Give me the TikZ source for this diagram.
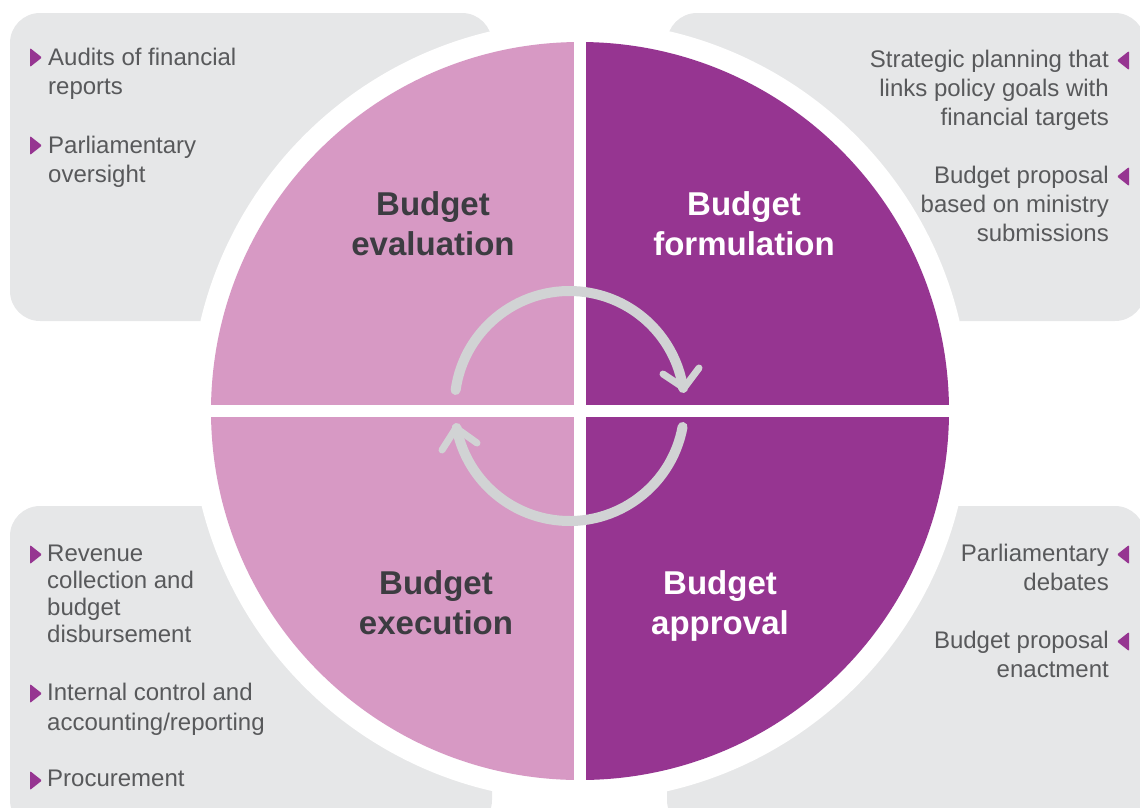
\documentclass[tikz,border=0pt]{standalone}
\usepackage{fontspec}
\setmainfont{Liberation Sans}
\definecolor{boxgray}{HTML}{E6E7E8}
\definecolor{lightp}{HTML}{D799C4}
\definecolor{darkp}{HTML}{963591}
\definecolor{arrowgray}{HTML}{D1D3D4}
\definecolor{bodygray}{HTML}{58595B}
\definecolor{titlegray}{HTML}{3C3C41}
\tikzset{
  infobox/.style={fill=boxgray, rounded corners=30pt},
  body/.style={font=\fontsize{24}{29}\selectfont, text=bodygray, inner sep=0pt},
  bodyL/.style={body, align=left, anchor=north west},
  bodyR/.style={body, align=right, anchor=north east},
  title/.style={font=\fontsize{33}{40}\selectfont\bfseries, align=center, anchor=north, inner sep=0pt},
  bulletR/.style={fill=darkp, rounded corners=1pt},
  cyclearc/.style={draw=arrowgray, line width=10pt, line cap=round},
  cyclehead/.style={draw=arrowgray, line width=7pt, line cap=round, line join=round}
}
\begin{document}
\begin{tikzpicture}[x=1pt,y=-1pt]
\useasboundingbox (0,0) rectangle (1140,807);
\clip (0,0) rectangle (1140,807);
% grey panels
\fill[infobox] (10,13) rectangle (492,321);
\fill[infobox] (667,13) rectangle (1145,321);
\fill[infobox] (10,506) rectangle (492,830);
\fill[infobox] (667,506) rectangle (1145,830);
% white ring
\coordinate (c) at (580,411);
\fill[white] (c) circle[radius=390];
% quadrants
\fill[lightp] (c) -- ++(180:369) arc[start angle=180,end angle=270,radius=369] -- cycle;
\fill[darkp] (c) -- ++(270:369) arc[start angle=270,end angle=360,radius=369] -- cycle;
\fill[darkp] (c) -- ++(0:369) arc[start angle=0,end angle=90,radius=369] -- cycle;
\fill[lightp] (c) -- ++(90:369) arc[start angle=90,end angle=180,radius=369] -- cycle;
% white cross
\fill[white] (574,30) rectangle (586,800);
\fill[white] (200,405) rectangle (960,417);
% cycle arrows
\coordinate (ac) at (569.5,406);
\draw[cyclearc] ([shift={(188:115)}]ac) arc[start angle=188,end angle=351,radius=115];
\draw[cyclearc] ([shift={(10.5:115)}]ac) arc[start angle=10.5,end angle=169,radius=115];
\coordinate (t1) at (684,388);
\coordinate (t2) at (456,428);
\draw[cyclehead] (663,374) -- (t1) -- (699,368);
\draw[cyclehead] (442,450) -- (t2) -- (477,443);
% titles
\node[title, text=titlegray] (eval) at (433,191) {Budget\\evaluation};
\node[title, text=white] (form) at (744,191) {Budget\\formulation};
\node[title, text=titlegray] (exec) at (436,570) {Budget\\execution};
\node[title, text=white] (appr) at (720,570) {Budget\\approval};
% top-left texts
\fill[bulletR] (30,48) -- (30,67) -- (42,57.5) -- cycle;
\node[bodyL] (tl1) at (48,48) {Audits of financial\\reports};
\fill[bulletR] (30,136) -- (30,155) -- (42,145.5) -- cycle;
\node[bodyL] (tl2) at (48,136) {Parliamentary\\oversight};
% top-right texts
\fill[bulletR] (1129,51) -- (1129,70) -- (1117,60.5) -- cycle;
\node[bodyR] (tr1) at (1109,50) {Strategic planning that\\links policy goals with\\financial targets};
\fill[bulletR] (1129,167) -- (1129,186) -- (1117,176.5) -- cycle;
\node[bodyR] (tr2) at (1109,166) {Budget proposal\\based on ministry\\submissions};
% bottom-left texts
\fill[bulletR] (30,545) -- (30,564) -- (42,554.5) -- cycle;
\node[bodyL, font=\fontsize{24}{27}\selectfont] (bl1) at (47,545) {Revenue\\collection and\\budget\\disbursement};
\fill[bulletR] (30,684) -- (30,703) -- (42,693.5) -- cycle;
\node[bodyL, font=\fontsize{24}{30}\selectfont] (bl2) at (47,683) {Internal control and\\accounting/reporting};
\fill[bulletR] (30,771) -- (30,790) -- (42,780.5) -- cycle;
\node[bodyL] (bl3) at (47,770) {Procurement};
% bottom-right texts
\fill[bulletR] (1129,545) -- (1129,564) -- (1117,554.5) -- cycle;
\node[bodyR] (br1) at (1109,544) {Parliamentary\\debates};
\fill[bulletR] (1129,632) -- (1129,651) -- (1117,641.5) -- cycle;
\node[bodyR] (br2) at (1109,631) {Budget proposal\\enactment};
\end{tikzpicture}
\end{document}
